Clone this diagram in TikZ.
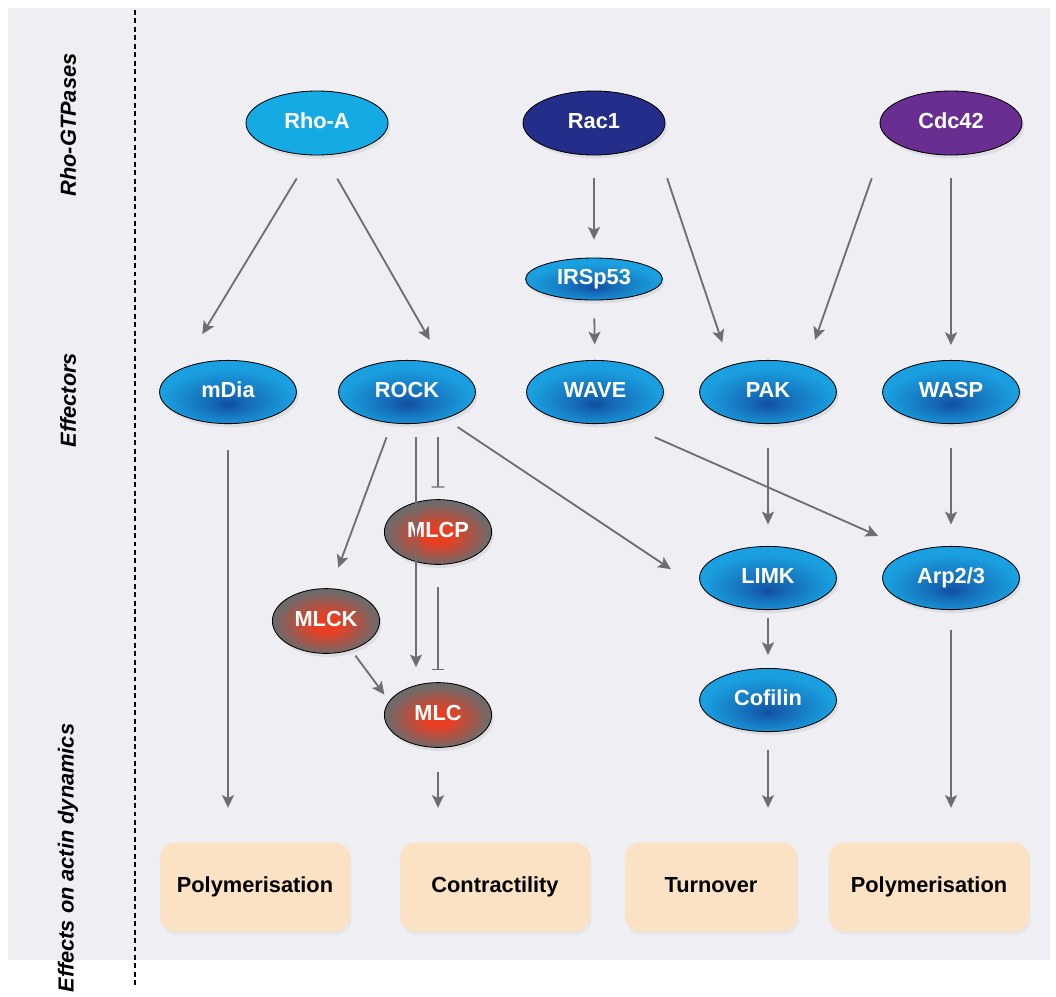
\documentclass[tikz,border=0pt]{standalone}
\usepackage{fontspec}
\setmainfont{Liberation Sans}
\usetikzlibrary{arrows.meta, shapes.geometric, shadows}

\definecolor{bggray}{RGB}{239,238,243}
\definecolor{rhoblue}{RGB}{22,170,228}
\definecolor{racblue}{RGB}{36,46,138}
\definecolor{cdcpurple}{RGB}{106,45,145}
\definecolor{effin}{RGB}{18,78,162}
\definecolor{effout}{RGB}{26,160,224}
\definecolor{myoin}{RGB}{234,62,34}
\definecolor{myoout}{RGB}{110,106,106}
\definecolor{boxpeach}{RGB}{252,226,196}
\definecolor{arrgray}{RGB}{110,110,114}

\pgfdeclareradialshading{effshade}{\pgfpoint{0bp}{-10bp}}{color(0bp)=(effin); color(7bp)=(effin!65!effout); color(24bp)=(effout); color(50bp)=(effout)}
\pgfdeclareradialshading{myoshade}{\pgfpoint{0bp}{-3bp}}{color(0bp)=(myoin); color(6bp)=(myoin); color(24bp)=(myoout); color(50bp)=(myoout)}

\begin{document}
\begin{tikzpicture}[x=0.025cm, y=-0.025cm,
 lab/.style={font=\fontsize{15.5}{18}\selectfont\bfseries, text height=11.3pt, text depth=3.3pt},
 gtpase/.style={lab, ellipse, draw=black, line width=0.6pt, inner sep=0pt, minimum width=3.55cm, minimum height=1.6cm, text=white, drop shadow={opacity=0.15, shadow xshift=1.5pt, shadow yshift=-2.5pt}},
 effector/.style={gtpase, minimum width=3.42cm, minimum height=1.58cm, shading=effshade},
 myosin/.style={gtpase, minimum width=2.68cm, minimum height=1.62cm, shading=myoshade},
 effect/.style={lab, rounded corners=0.375cm, fill=boxpeach, minimum height=2.225cm, inner sep=0pt, drop shadow={opacity=0.08, shadow xshift=1pt, shadow yshift=-2pt}},
 arr/.style={draw=arrgray, line width=1.3pt, -{Stealth[length=9pt, width=8.5pt, inset=2pt]}},
 inhib/.style={draw=arrgray, line width=1.3pt, -{Bar[width=9pt, line width=0.9pt]}},
 side/.style={font=\fontsize{15.5}{18}\selectfont\bfseries\itshape, rotate=90}]

\useasboundingbox (0,0) rectangle (1056,996);
\fill [bggray] (8,8) rectangle (1050,960);
\draw [black, line width=1.2pt, dash pattern=on 3.5pt off 2.5pt] (135,10) -- (135,988);

% row labels
\node (rgtp) at (68,125) [side] {Rho-GTPases};
\node (reff) at (68,400) [side] {Effectors};
\node (rdyn) at (68,858) [side] {Effects on actin dynamics};

% Rho-GTPases
\node (rhoa) at (317,123) [gtpase, fill=rhoblue] {Rho-A};
\node (rac) at (594,123) [gtpase, fill=racblue] {Rac1};
\node (cdc) at (951,123) [gtpase, fill=cdcpurple] {Cdc42};
\node (irsp) at (594,279) [effector, minimum height=1.05cm] {IRSp53};

% effectors
\node (mdia) at (228,392) [effector] {mDia};
\node (rock) at (407,392) [effector] {ROCK};
\node (wave) at (595,392) [effector] {WAVE};
\node (pak) at (768,392) [effector] {PAK};
\node (wasp) at (951,392) [effector] {WASP};

\node (mlcp) at (438,532) [myosin] {MLCP};
\node (mlck) at (326,621) [myosin] {MLCK};
\node (mlc) at (438,715) [myosin] {MLC};
\node (limk) at (768,578) [effector] {LIMK};
\node (arp) at (951,578) [effector] {Arp2/3};
\node (cofilin) at (768,700) [effector] {Cofilin};

% effects on actin
\node (poly1) at (255,887) [effect, minimum width=4.75cm] {Polymerisation};
\node (contr) at (495,887) [effect, minimum width=4.75cm] {Contractility};
\node (turn) at (711,887) [effect, minimum width=4.3cm] {Turnover};
\node (poly2) at (929,887) [effect, minimum width=5cm] {Polymerisation};

% connectors
\draw [arr, shorten <=0.675cm, shorten >=1cm] (rhoa.259) -- (mdia.153);
\draw [arr, shorten <=0.675cm, shorten >=0.725cm] (rhoa.282) -- (rock.36);
\draw [arr, shorten <=0.575cm, shorten >=0.45cm] (rac.south) -- (irsp.north);
\draw [arr, shorten <=0.45cm, shorten >=0.39cm] (irsp.south) -- (wave.north);
\draw [arr, shorten <=1cm, shorten >=0.6cm] (rac.344) -- (pak.145);
\draw [arr, shorten <=1.1cm, shorten >=0.675cm] (cdc.192) -- (pak.35);
\draw [arr, shorten <=0.575cm, shorten >=0.375cm] (cdc.south) -- (wasp.north);

\draw [arr, shorten <=0.66cm, shorten >=0.86cm] (mdia.south) -- (mdia.south |- poly1.north);
\draw [arr, shorten <=0.375cm, shorten >=0.55cm] (rock.244) -- (mlck.82);
\draw [arr, shorten <=0.325cm, shorten >=0.375cm] ([xshift=0.225cm]rock.south) -- ([xshift=-0.55cm]mlc.north);
\draw [inhib, shorten <=0.325cm, shorten >=0.29cm] ([xshift=0.775cm]rock.south) -- (mlcp.north);
\draw [inhib, shorten <=0.55cm, shorten >=0.31cm] (mlcp.south) -- (mlc.north);
\draw [arr, shorten <=0.175cm, shorten >=0.2cm] (mlck.311) -- (mlc.164);
\draw [arr, shorten <=0.61cm, shorten >=0.86cm] (mlc.south) -- (mlc.south |- contr.north);
\draw [arr, shorten <=0.375cm, shorten >=1.29cm] (rock.325) -- (limk.200);
\draw [arr, shorten <=0.95cm, shorten >=0.95cm] (wave.310) -- (arp.145);
\draw [arr, shorten <=0.6cm, shorten >=0.54cm] (pak.south) -- (limk.north);
\draw [arr, shorten <=0.6cm, shorten >=0.54cm] (wasp.south) -- (arp.north);
\draw [arr, shorten <=0.21cm, shorten >=0.325cm] (limk.south) -- (cofilin.north);
\draw [arr, shorten <=0.45cm, shorten >=0.86cm] (cofilin.south) -- (cofilin.south |- turn.north);
\draw [arr, shorten <=0.51cm, shorten >=0.86cm] (arp.south) -- (arp.south |- poly2.north);

\end{tikzpicture}
\end{document}
